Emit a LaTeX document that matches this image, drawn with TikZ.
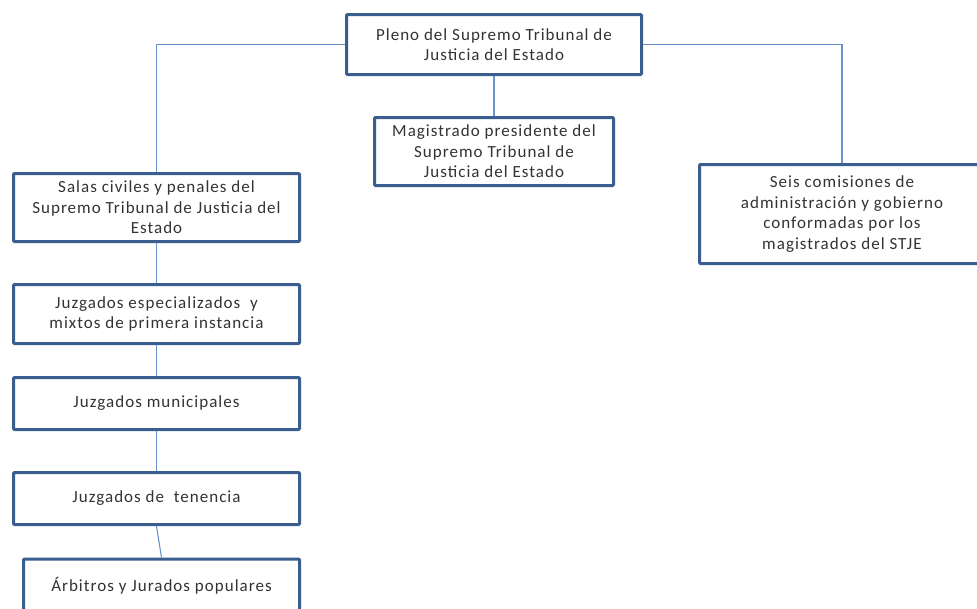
\documentclass[tikz,border=0pt]{standalone}
\usepackage{fontspec}
\setmainfont{Carlito}[LetterSpace=6]
\definecolor{boxline}{HTML}{3A5F8F}
\definecolor{linkline}{HTML}{6A93CC}
\definecolor{txt}{HTML}{333333}
\begin{document}
\begin{tikzpicture}[x=1pt,y=-1pt,
  orgbox/.style={draw=boxline, line width=3pt, fill=white, rectangle,
    rounded corners=1pt, align=center, text=txt, inner sep=2pt,
    font=\fontsize{17}{20.5}\selectfont},
  link/.style={draw=linkline, line width=1.1pt}]
\useasboundingbox (0,0) rectangle (977,608);
\clip (0,0) rectangle (977,608);

\node[orgbox, minimum width=295, minimum height=60] (pleno) at (494,44.5)
  {Pleno del Supremo Tribunal de\\Justicia del Estado};
\node[orgbox, minimum width=239, minimum height=68] (magis) at (494,151.5)
  {Magistrado presidente del\\Supremo Tribunal de\\Justicia del Estado};
\node[orgbox, minimum width=286, minimum height=68] (salas) at (156.5,207.5)
  {Salas civiles y penales del\\Supremo Tribunal de Justicia del\\Estado};
\node[orgbox, minimum width=285, minimum height=99] (seis) at (842,214)
  {Seis comisiones de\\administración y gobierno\\conformadas por los\\magistrados del STJE};
\node[orgbox, minimum width=286, minimum height=59] (esp) at (156.5,314)
  {Juzgados especializados\ \ y\\mixtos de primera instancia};
\node[orgbox, minimum width=286, minimum height=52] (muni) at (156.5,403.5)
  {Juzgados municipales};
\node[orgbox, minimum width=286, minimum height=52] (ten) at (156.5,498.5)
  {Juzgados de\ \ tenencia};
\node[orgbox, minimum width=276, minimum height=53] (arb) at (161.5,585.5)
  {Árbitros y Jurados populares};

\draw[link] (pleno.west) -| (salas.north);
\draw[link] (pleno.east) -| (seis.north);
\draw[link] (pleno.south) -- (magis.north);
\draw[link] (salas.south) -- (esp.north);
\draw[link] (esp.south) -- (muni.north);
\draw[link] (muni.south) -- (ten.north);
\draw[link] (ten.south) -- (arb.north);
\end{tikzpicture}
\end{document}
